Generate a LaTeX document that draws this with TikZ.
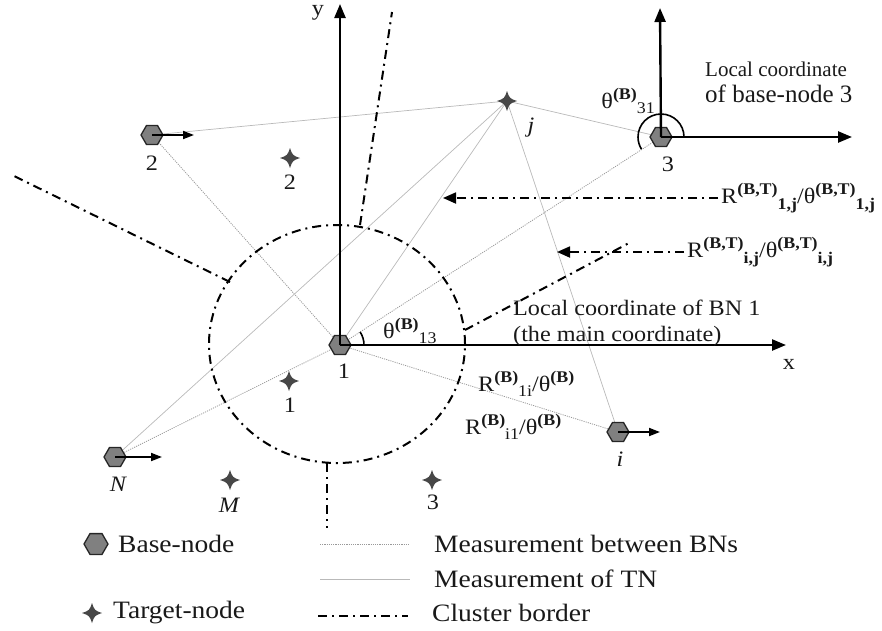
\documentclass[tikz,border=0pt]{standalone}
\usepackage{fontspec}
\usepackage{graphicx}
\setmainfont{Liberation Serif}[FakeStretch=1.1]
\newfontfamily\timesfont{Liberation Serif}
\usetikzlibrary{arrows.meta,shapes.geometric,backgrounds}

% raised bold superscript and lowered subscript, written side by side
\newcommand{\sps}[1]{\raisebox{0.40em}{\scalebox{0.74}{\bfseries #1}}}
\newcommand{\sbs}[1]{\raisebox{-0.25em}{\scalebox{0.74}{#1}}}
\newcommand{\sbb}[1]{\raisebox{-0.25em}{\scalebox{0.74}{\bfseries #1}}}

\tikzset{
  bn/.style={regular polygon, regular polygon sides=6, draw=black!85, line width=1.3pt,
    fill=black!50, minimum size=22pt, inner sep=0pt},
  tn/.style={circle, draw=none, minimum size=16pt, inner sep=0pt},
  tnstar/.pic={\fill[black!72] (0pt,10pt) .. controls (2.6pt,2.6pt) .. (10pt,0pt)
      .. controls (2.6pt,-2.6pt) .. (0pt,-10pt) .. controls (-2.6pt,-2.6pt) .. (-10pt,0pt)
      .. controls (-2.6pt,2.6pt) .. (0pt,10pt) -- cycle;},
  bline/.style={draw=gray!80, line width=0.8pt, dash pattern=on 1.1pt off 1.1pt},
  tline/.style={draw=gray!55, line width=0.7pt},
  border/.style={line width=2pt, dash pattern=on 9pt off 5pt on 2pt off 5pt},
  axis/.style={line width=2.4pt, -{Triangle[length=14pt,width=11pt]}},
  heading/.style={line width=1.8pt, -{Triangle[length=11pt,width=8pt]}},
  pointer/.style={line width=1.8pt, dash pattern=on 9pt off 5pt on 2pt off 5pt,
    -{Triangle[length=13pt,width=11pt]}},
  lbl/.style={font=\fontsize{22}{26}\selectfont, inner sep=0pt, text=black!90},
  leg/.style={font=\fontsize{25}{29}\selectfont, inner sep=0pt, anchor=west, text=black!90},
}

\begin{document}
\begin{tikzpicture}[x=1pt,y=-1pt]
\useasboundingbox (0,0) rectangle (882,630);

% base-nodes
\node[bn] (b1) at (340,345) {};
\node[bn] (b2) at (152,135) {};
\node[bn] (b3) at (661,137) {};
\node[bn] (bi) at (618,432) {};
\node[bn] (bN) at (115,457) {};

% target-nodes
\node[tn] (tj) at (507,101) {};
\node[tn] (t2) at (290,158) {};
\node[tn] (t1) at (289,381) {};
\node[tn] (tM) at (230,480) {};
\node[tn] (t3) at (432,480) {};
\foreach \t in {tj,t2,t1,tM,t3} \pic at (\t) {tnstar};

% measurements, behind the nodes
\begin{scope}[on background layer]
  \draw[bline] (b1.center) -- (b2.center);
  \draw[bline] (b1.center) -- (b3.center);
  \draw[bline] (b1.center) -- (bi.center);
  \draw[bline] (b1.center) -- (bN.center);
  \draw[tline] (tj.center) -- (b2.center);
  \draw[tline] (tj.center) -- (b3.center);
  \draw[tline] (tj.center) -- (b1.center);
  \draw[tline] (tj.center) -- (bN.center);
  \draw[tline] (tj.center) -- (bi.center);

  % cluster border
  \draw[border] (337,344) ellipse [x radius=128pt, y radius=119pt];
  \coordinate (ct) at (360,225);  \coordinate (cte) at (392,12);
  \coordinate (cl) at (230,282);  \coordinate (cle) at (12,175);
  \coordinate (cr) at (465,330);  \coordinate (cre) at (629,243);
  \coordinate (cb) at (327,463);  \coordinate (cbe) at (327,528);
  \draw[border] (ct) -- (cte);
  \draw[border] (cl) -- (cle);
  \draw[border] (cr) -- (cre);
  \draw[border] (cb) -- (cbe);
\end{scope}

% local coordinate of BN 1
\coordinate (xe) at (786,345);
\coordinate (ye) at (340,4);
\draw[axis] (b1.center) -- (xe);
\draw[axis] (b1.center) -- (ye);
\node[lbl] (xl) at (789,364) {x};
\node[lbl] (yl) at (318,13) {y};
\draw[line width=1.6pt] (b1.center) ++(24pt,0pt) arc[start angle=0, end angle=33, radius=24pt];

% local coordinate of base-node 3
\coordinate (x3) at (852,137);
\coordinate (y3) at (660,8);
\draw[axis] (b3.center) -- (x3);
\draw[axis] (b3.center) -- (y3);
\draw[line width=1.6pt] (b3.center) ++(23pt,0pt) arc[start angle=0, end angle=212, radius=23pt];

% headings of the base-nodes
\coordinate (h2) at (194,135);
\coordinate (hi) at (660,432);
\coordinate (hN) at (162,457);
\draw[heading] (b2.center) -- (h2);
\draw[heading] (bi.center) -- (hi);
\draw[heading] (bN.center) -- (hN);

% node labels
\node[lbl] (l1) at (344,371) {1};
\node[lbl] (l2) at (152,163) {2};
\node[lbl] (l3) at (668,164) {3};
\node[lbl] (lt2) at (290,182) {2};
\node[lbl] (lt1) at (290,405) {1};
\node[lbl] (lt3) at (433,502) {3};
\node[lbl, font=\fontsize{22}{26}\selectfont\itshape] (lj) at (531,128) {j};
\node[lbl, font=\fontsize{22}{26}\selectfont\itshape] (li) at (620,459) {i};
\node[lbl, font=\fontsize{22}{26}\selectfont\itshape] (lN) at (118,484) {N};
\node[lbl, font=\fontsize{22}{26}\selectfont\itshape] (lM) at (229,505) {M};

% angle labels
\node[lbl, anchor=west] (a13) at (383,331) {θ\sps{(B)}\sbs{13}};
\node[lbl, anchor=east] (a31) at (655,101) {θ\sps{(B)}\sbs{31}};

% range / bearing labels
\node[lbl, anchor=west] (r1i) at (478,384) {R\sps{(B)}\sbs{1i}/θ\sps{(B)}};
\node[lbl, anchor=west] (ri1) at (465,427) {R\sps{(B)}\sbs{i1}/θ\sps{(B)}};

\coordinate (p1) at (443,198);
\coordinate (p2) at (557,252);
\node[lbl, anchor=west] (r1j) at (721,198) {R\sps{(B,T)}\sbb{1,j}/θ\sps{(B,T)}\sbb{1,j}};
\node[lbl, anchor=west] (rij) at (687,252) {R\sps{(B,T)}\sbb{i,j}/θ\sps{(B,T)}\sbb{i,j}};
\draw[pointer] (r1j.west) ++(-3,0) -- (p1);
\draw[pointer] (rij.west) ++(-3,0) -- (p2);

% captions of the coordinates
\node[lbl, anchor=west, align=left] (c1) at (513,323)
  {Local coordinate of BN 1\\(the main coordinate)};
\node[inner sep=0pt, anchor=west, text=black!90, font=\timesfont\fontsize{21}{24}\selectfont] (c3a) at (705,69) {Local coordinate};
\node[inner sep=0pt, anchor=west, text=black!90, font=\timesfont\fontsize{25}{28}\selectfont] (c3b) at (705,94) {of base-node 3};

% legend
\node[bn, minimum size=24pt] (kb) at (96,544) {};
\node[leg] (kbt) at (118,544) {Base-node};
\node[tn] (kt) at (92,613) {};
\pic at (kt) {tnstar};
\node[leg] (ktt) at (113,613) {Target-node};
\coordinate (k1a) at (320,544); \coordinate (k1b) at (410,544);
\coordinate (k2a) at (320,579); \coordinate (k2b) at (410,579);
\coordinate (k3a) at (318,616); \coordinate (k3b) at (408,616);
\draw[bline] (k1a) -- (k1b);
\draw[tline] (k2a) -- (k2b);
\draw[border] (k3a) -- (k3b);
\node[leg] (k1t) at (434,544) {Measurement between BNs};
\node[leg] (k2t) at (434,579) {Measurement of TN};
\node[leg] (k3t) at (432,613) {Cluster border};
\end{tikzpicture}
\end{document}
